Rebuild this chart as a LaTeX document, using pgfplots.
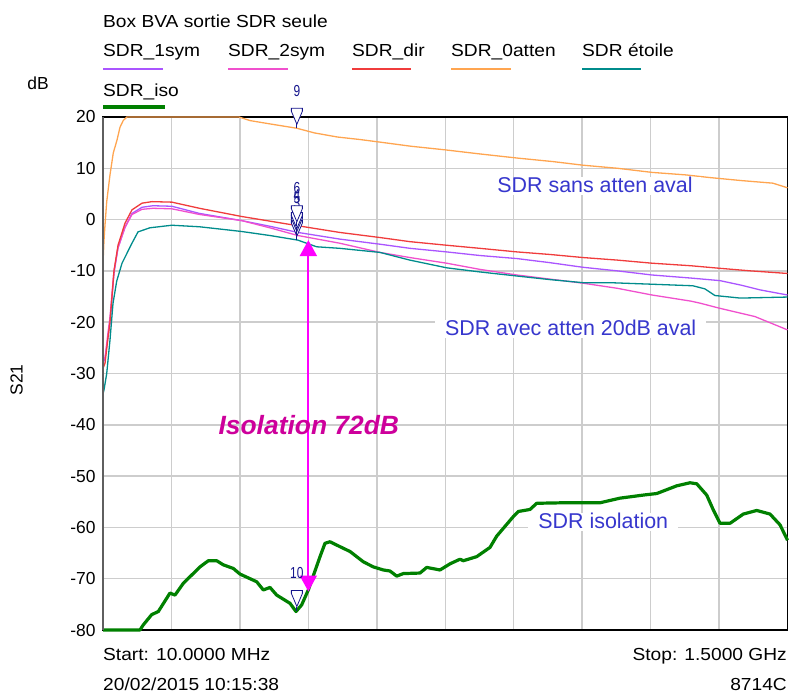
\documentclass[border=0pt]{standalone}
\usepackage{fontspec}
\setmainfont{Liberation Sans}
\newfontfamily\legfont{Liberation Sans}[FakeStretch=1.1]
\newfontfamily\narrowfont{Liberation Sans}[FakeStretch=0.75]
\usepackage{pgfplots}
\pgfplotsset{compat=1.18}
\usetikzlibrary{arrows.meta}

\definecolor{cone}{RGB}{170,85,255}
\definecolor{ctwo}{RGB}{240,80,205}
\definecolor{cdir}{RGB}{240,60,60}
\definecolor{czero}{RGB}{255,165,80}
\definecolor{cetoile}{RGB}{0,140,140}
\definecolor{ciso}{RGB}{0,128,0}
\definecolor{navy}{RGB}{20,20,140}
\definecolor{gridgray}{RGB}{205,205,205}
\definecolor{axisgray}{RGB}{95,95,95}
\definecolor{annblue}{RGB}{55,55,205}
\definecolor{isomag}{RGB}{205,0,155}
\definecolor{arrmag}{RGB}{255,0,255}

\newcommand\legtext{\legfont\fontsize{17.5}{19}\selectfont}
\newcommand\anntext{\fontsize{21.5}{23}\selectfont}
\newcommand\mktext{\narrowfont\fontsize{16}{16}\selectfont}

\pgfdeclareplotmark{vnamark}{%
  \pgfpathmoveto{\pgfpoint{0bp}{0bp}}%
  \pgfpathlineto{\pgfpoint{0bp}{4bp}}%
  \pgfusepathqstroke
  \pgfpathmoveto{\pgfpoint{0bp}{4bp}}%
  \pgfpathlineto{\pgfpoint{-5.5bp}{17bp}}%
  \pgfpathlineto{\pgfpoint{-5.5bp}{20bp}}%
  \pgfpathlineto{\pgfpoint{5.5bp}{20bp}}%
  \pgfpathlineto{\pgfpoint{5.5bp}{17bp}}%
  \pgfpathclose
  \pgfusepathqfillstroke
}

\begin{document}
\begin{tikzpicture}[x=1bp,y=1bp]
\useasboundingbox (0,0) rectangle (791,695);
\begin{axis}[
  at={(103bp,65bp)}, anchor=south west,
  width=684.5bp, height=513bp, scale only axis,
  xmin=10, xmax=1500, ymin=-80, ymax=20,
  xtick={10,159,308,457,606,755,904,1053,1202,1351,1500}, xticklabels={},
  ytick={-80,-70,-60,-50,-40,-30,-20,-10,0,10,20},
  grid=major, major grid style={draw=gridgray, line width=1.5bp},
  major tick length=0pt,
  axis line style={black, line width=1.2bp},
  yticklabel style={font=\fontsize{17.5}{18}\selectfont, xshift=-4bp},
  /pgf/number format/assume math mode=true,
  clip=false,
]
% SDR_1sym
\addplot[color=cone, line width=1.3bp] coordinates {
(10,-28) (14.4,-27) (20.9,-23) (25.2,-20) (33.9,-10.5) (42.7,-5.5) (57.9,-1.5) (73.1,1.2) (94.9,2.4) (118.8,2.7) (160,2.6) (220,1.2) (312,-0.2) (373,-1.3) (434,-2.5) (525,-3.8) (613,-4.8) (678,-5.6) (758,-6.3) (830,-7.0) (911,-7.6) (983,-8.4) (1055,-9.3) (1130,-10.0) (1205,-10.8) (1290,-11.4) (1353,-11.9) (1400,-12.8) (1440,-13.7) (1500,-14.7)
};
% SDR_2sym
\addplot[color=ctwo, line width=1.3bp] coordinates {
(10,-27) (14.4,-27) (20.9,-22) (25.2,-19) (33.9,-10) (42.7,-5.5) (57.9,-1.5) (73.1,1.0) (94.9,2.0) (118.8,2.2) (160,2.1) (220,1.0) (312,-0.2) (373,-1.6) (434,-3.1) (525,-4.6) (613,-6.4) (678,-7.4) (758,-8.5) (830,-9.7) (911,-10.8) (983,-11.6) (1055,-12.4) (1130,-13.4) (1205,-14.7) (1290,-15.9) (1310,-16.3) (1353,-17.3) (1429,-18.9) (1500,-21.5)
};
% SDR_dir
\addplot[color=cdir, line width=1.3bp] coordinates {
(10,-29) (14.4,-28) (20.9,-23) (25.2,-20) (33.9,-10) (42.7,-5) (57.9,-0.7) (73.1,1.9) (94.9,3.2) (116.7,3.5) (160,3.4) (220,2.2) (312,0.6) (373,-0.3) (434,-1.2) (525,-2.5) (613,-3.5) (678,-4.3) (758,-5.0) (830,-5.6) (911,-6.3) (983,-6.8) (1055,-7.4) (1130,-7.9) (1205,-8.5) (1290,-9.0) (1353,-9.5) (1420,-10.0) (1500,-10.5)
};
% SDR_0atten
\addplot[color=czero, line width=1.3bp] coordinates {
(10,-8.5) (12.2,-4) (14.4,-1) (18.1,3.5) (21.5,6) (25.2,8.7) (32.4,13) (40.5,15.5) (47,18) (54,19.3) (62,20) (306,20) (330,19.3) (370,18.7) (432,17.8) (470,16.9) (520,16.1) (570,15.6) (613,15.1) (680,14.3) (754,13.6) (830,12.8) (911,12) (990,11.3) (1055,10.6) (1130,10) (1205,9.2) (1280,8.7) (1330,8.2) (1400,7.6) (1468,7.1) (1500,6.2)
};
% SDR etoile
\addplot[color=cetoile, line width=1.3bp] coordinates {
(10,-34) (12.2,-33.2) (18.1,-30) (25.2,-23.5) (31.8,-16.3) (39.8,-12) (51.4,-8.5) (73.1,-4.6) (86.2,-2.4) (112,-1.6) (160,-1.1) (220,-1.4) (310,-2.3) (373,-3.1) (434,-4.0) (475,-5.3) (525,-5.6) (613,-6.4) (678,-7.9) (758,-9.4) (830,-10.2) (911,-11.0) (983,-11.7) (1055,-12.3) (1114,-12.3) (1205,-12.6) (1294,-12.9) (1320,-13.5) (1342,-14.8) (1397,-15.3) (1500,-15.1)
};
% SDR_iso
\addplot[color=ciso, line width=3.2bp, line join=round] coordinates {
(10,-80) (90.5,-80) (97.7,-79) (116,-77) (130.4,-76.4) (155.8,-72.8) (166.7,-73.2) (184.8,-70.9) (221.1,-67.7) (239.2,-66.5) (257.5,-66.5) (271.9,-67.3) (293.6,-68.0) (308.2,-69.1) (344.6,-70.6) (358.9,-72.2) (373.5,-71.7) (388.1,-73.2) (417.1,-74.8) (430.1,-76.4) (442.5,-75.1) (456.9,-72.2) (482.4,-65.7) (493.2,-63.1) (504.1,-62.8) (522.2,-63.6) (547.7,-64.7) (576.6,-66.7) (598.4,-67.7) (620.2,-68.3) (634.7,-68.5) (649.3,-69.5) (663.7,-69.0) (700,-68.9) (714.6,-67.8) (743.6,-68.3) (765.4,-67.1) (787.1,-66.2) (794.3,-66.5) (823.5,-65.7) (852.4,-63.9) (867,-61.7) (903.1,-57.9) (914,-56.9) (939.5,-56.5) (954.1,-55.3) (1012,-55.2) (1091.9,-55.2) (1135.4,-54.3) (1186.1,-53.7) (1215.3,-53.4) (1258.8,-51.9) (1287.8,-51.3) (1302.4,-51.5) (1324.1,-53.7) (1338.5,-56.6) (1353.1,-59.2) (1374.9,-59.2) (1403.8,-57.4) (1433,-56.7) (1461.9,-57.4) (1483.7,-59.5) (1500,-62.5)
};
% left axis
\draw[line width=2.5bp, axisgray] (axis cs:10,-80) -- (axis cs:10,20);
% markers
\pgfplotsset{mk/.style={only marks, mark=vnamark, mark options={draw=navy, fill=white, line width=0.8bp},
  every node near coord/.append style={anchor=center, yshift=37.5bp, text=navy, font=\mktext}}}
\addplot[mk, nodes near coords={3}] coordinates {(432,-4.0)};
\addplot[mk, nodes near coords={5}] coordinates {(432,-3.1)};
\addplot[mk, nodes near coords={4}] coordinates {(432,-2.5)};
\addplot[mk, nodes near coords={6}] coordinates {(432,-1.2)};
\addplot[mk, nodes near coords={9}] coordinates {(432,17.8)};
\addplot[mk, nodes near coords={10}] coordinates {(432,-76.2)};
% arrow
\draw[arrmag, line width=2bp, {Triangle[width=17bp,length=16bp]}-{Triangle[width=17bp,length=16bp]}] (axis cs:457,-4.0) -- (axis cs:457,-72.5);
% annotations
\node[fill=white, inner xsep=8bp, inner ysep=0.5bp, text height=15.5bp, text depth=1.5bp, text=annblue, font=\anntext] at (axis cs:1081,6.55) {SDR sans atten aval};
\node[fill=white, inner xsep=10bp, inner ysep=0.5bp, text height=15.5bp, text depth=1.5bp, text=annblue, font=\anntext] at (axis cs:1028,-21.3) {SDR avec atten 20dB aval};
\node[fill=white, inner xsep=10bp, inner ysep=0.5bp, text height=15.5bp, text depth=1.5bp, text=annblue, font=\anntext] at (axis cs:1099,-58.9) {SDR isolation};
\node[text=isomag, font=\bfseries\itshape\fontsize{26.5}{28}\selectfont] at (axis cs:458,-40) {Isolation 72dB};
\end{axis}
% title and legend
\node[anchor=base west, inner sep=0, font=\legtext] at (103,667.7) {Box BVA sortie SDR seule};
\node[anchor=base west, inner sep=0, font=\legtext] at (103,638.3) {SDR\_1sym};
\node[anchor=base west, inner sep=0, font=\legtext] at (228,638.3) {SDR\_2sym};
\node[anchor=base west, inner sep=0, font=\legtext] at (352,638.3) {SDR\_dir};
\node[anchor=base west, inner sep=0, font=\legtext] at (451,638.3) {SDR\_0atten};
\node[anchor=base west, inner sep=0, font=\legtext] at (582,638.3) {SDR étoile};
\draw[cone, line width=2bp] (103,625.5) -- (163,625.5);
\draw[ctwo, line width=2bp] (228,625.5) -- (288,625.5);
\draw[cdir, line width=2bp] (352,625.5) -- (411,625.5);
\draw[czero, line width=2bp] (451,625.5) -- (511,625.5);
\draw[cetoile, line width=2bp] (582,625.5) -- (641,625.5);
\node[anchor=base west, inner sep=0, font=\legtext] at (103,598.3) {SDR\_iso};
\draw[ciso, line width=4bp] (103,587.5) -- (165,587.5);
\node[anchor=base, inner sep=0, font=\fontsize{17.5}{18}\selectfont] at (38,605.7) {dB};
\node[rotate=90, inner sep=0, font=\fontsize{17.5}{18}\selectfont] at (16.5,315) {S21};
% bottom texts
\node[anchor=base west, inner sep=0, font=\legtext] at (103,34) {Start: 10.0000 MHz};
\node[anchor=base east, inner sep=0, font=\legtext] at (787,34) {Stop: 1.5000 GHz};
\node[anchor=base west, inner sep=0, font=\legtext] at (103,4) {20/02/2015 10:15:38};
\node[anchor=base east, inner sep=0, font=\legtext] at (787,4) {8714C};
\end{tikzpicture}
\end{document}
